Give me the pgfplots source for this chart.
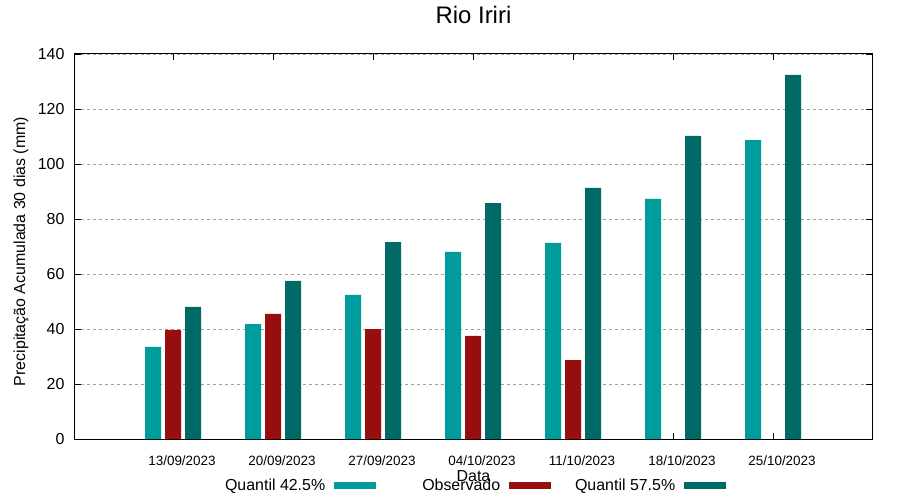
\documentclass[border=0pt]{standalone}
\usepackage{fontspec}
\setmainfont{Liberation Sans}
\usepackage{pgfplots}
\pgfplotsset{compat=1.18}
\definecolor{qlow}{RGB}{0,155,155}
\definecolor{obs}{RGB}{150,14,14}
\definecolor{qhigh}{RGB}{0,106,102}
\definecolor{gridgray}{RGB}{160,160,160}
\begin{document}
\begin{tikzpicture}
\useasboundingbox (-75bp,-61bp) rectangle (825bp,439bp);
\begin{axis}[
  at={(0,0)}, anchor=south west,
  scale only axis, width=797bp, height=385bp,
  xmin=-0.98, xmax=6.99, ymin=0, ymax=140,
  ybar, bar width=0.16,
  xtick={0,...,6},
  xticklabels={13/09/2023,20/09/2023,27/09/2023,04/10/2023,11/10/2023,18/10/2023,25/10/2023},
  xticklabel style={font=\fontsize{13.5}{16}\selectfont, anchor=base, yshift=-26bp, xshift=9bp},
  ytick={0,20,...,140},
  yticklabel style={font=\fontsize{16}{19}\selectfont, anchor=east, xshift=-7bp},
  /pgf/number format/assume math mode=true,
  ymajorgrids,
  grid style={gridgray, line width=0.9bp, dash pattern=on 3bp off 3bp},
  tick style={black, line width=0.9bp}, major tick length=6bp,
  tick align=inside,
  axis line style={black, line width=1bp},
  title={Rio Iriri},
  title style={font=\fontsize{24}{28}\selectfont, at={(axis description cs:0.5,1)}, anchor=base, yshift=25bp},
  xlabel={Data},
  xlabel style={font=\fontsize{16}{19}\selectfont, at={(axis description cs:0.5,0)}, anchor=base, yshift=-42bp},
  ylabel={Precipitação Acumulada 30 dias (mm)},
  ylabel style={font=\fontsize{16}{19}\selectfont, at={(axis description cs:-0.0678,0.487)}, anchor=center},
  legend plot pos=right,
  legend columns=3,
  legend style={draw=none, fill=none, at={(axis description cs:0.1845,-0.122)}, anchor=west,
    font=\fontsize{16}{19}\selectfont, column sep=0bp, row sep=0bp,
    nodes={inner sep=0bp}},
]
\addplot[fill=qlow, draw=none, bar shift=-0.2,
  legend image code/.code={\path[draw=none,fill=none] (0bp,-3.5bp) rectangle (75bp,3.5bp); \fill[qlow] (9bp,-3.5bp) rectangle (51bp,3.5bp);}]
  coordinates {(0,33.5) (1,41.8) (2,52.4) (3,68.0) (4,71.3) (5,87.3) (6,108.7)};
\addlegendentry{\makebox[100bp][r]{Quantil 42.5\%}}
\addplot[fill=obs, draw=none, bar shift=0,
  legend image code/.code={\path[draw=none,fill=none] (0bp,-3.5bp) rectangle (75bp,3.5bp); \fill[obs] (9bp,-3.5bp) rectangle (51bp,3.5bp);}]
  coordinates {(0,39.7) (1,45.5) (2,40.0) (3,37.5) (4,28.7)};
\addlegendentry{\makebox[100bp][r]{Observado}}
\addplot[fill=qhigh, draw=none, bar shift=0.2,
  legend image code/.code={\path[draw=none,fill=none] (0bp,-3.5bp) rectangle (75bp,3.5bp); \fill[qhigh] (9bp,-3.5bp) rectangle (51bp,3.5bp);}]
  coordinates {(0,48.0) (1,57.5) (2,71.6) (3,85.8) (4,91.3) (5,110.2) (6,132.4)};
\addlegendentry{\makebox[100bp][r]{Quantil 57.5\%}}
\end{axis}
\end{tikzpicture}
\end{document}
